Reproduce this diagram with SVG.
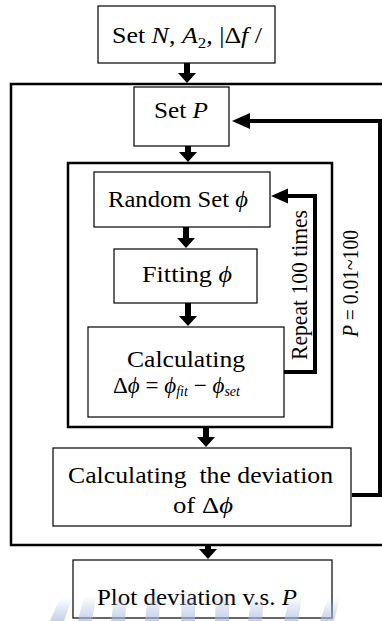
<svg xmlns="http://www.w3.org/2000/svg" width="382" height="621" viewBox="0 0 382 621">
<defs>
<style>
.box{fill:#fff;stroke:#000;stroke-width:1.2}
.frame{fill:none;stroke:#000;stroke-width:2.5}
.fb{fill:none;stroke:#000;stroke-width:4}
.ar{fill:#000}
.t{font-family:"Liberation Serif","DejaVu Serif",serif;font-size:23px;fill:#000}
.i{font-style:italic}
</style>
<linearGradient id="wm" x1="0" y1="0" x2="0" y2="1">
<stop offset="0" stop-color="#a9bbe0" stop-opacity="0"/>
<stop offset="1" stop-color="#a9bbe0" stop-opacity="0.85"/>
</linearGradient>
</defs>
<rect width="382" height="621" fill="#fff"/>
<g id="frames">
<rect id="outer-frame" class="frame" x="11" y="84" width="390" height="461"/>
<rect id="inner-frame" class="frame" x="68" y="163" width="264" height="264"/>
</g>
<g id="n-setN">
<rect class="box" x="98" y="6" width="177" height="57"/>
<text class="t" x="112" y="43" font-size="24" textLength="150" lengthAdjust="spacingAndGlyphs">Set <tspan class="i">N</tspan>, <tspan class="i">A</tspan><tspan font-size="15" dy="5">2</tspan><tspan dy="-5">, |Δ</tspan><tspan class="i">f</tspan> /</text>
</g>
<g id="n-setP">
<rect class="box" x="134" y="87" width="95" height="59"/>
<text class="t" x="154" y="118" textLength="54" lengthAdjust="spacingAndGlyphs">Set <tspan class="i">P</tspan></text>
</g>
<g id="n-random">
<rect class="box" x="94" y="172" width="176" height="55"/>
<text class="t" x="108" y="207" textLength="140" lengthAdjust="spacingAndGlyphs">Random Set <tspan class="i">ϕ</tspan></text>
</g>
<g id="n-fitting">
<rect class="box" x="114" y="249" width="143" height="54"/>
<text class="t" x="142" y="282" textLength="90" lengthAdjust="spacingAndGlyphs">Fitting <tspan class="i">ϕ</tspan></text>
</g>
<g id="n-calc">
<rect class="box" x="88" y="327" width="196" height="90"/>
<text class="t" x="127" y="367" textLength="118" lengthAdjust="spacingAndGlyphs">Calculating</text>
<text class="t" x="113" y="393" textLength="127" lengthAdjust="spacingAndGlyphs">Δ<tspan class="i">ϕ</tspan> = <tspan class="i">ϕ</tspan><tspan class="i" font-size="14" dy="3">fit</tspan><tspan dy="-3"> − </tspan><tspan class="i">ϕ</tspan><tspan class="i" font-size="14" dy="3">set</tspan></text>
</g>
<g id="n-deviation">
<rect class="box" x="53" y="448" width="298" height="78"/>
<text class="t" x="68" y="483" textLength="265" lengthAdjust="spacingAndGlyphs" xml:space="preserve">Calculating  the deviation</text>
<text class="t" x="173" y="513" textLength="60" lengthAdjust="spacingAndGlyphs">of Δ<tspan class="i">ϕ</tspan></text>
</g>
<g id="n-plot">
<rect class="box" x="73" y="560" width="259" height="58"/>
<text class="t" x="97" y="605" textLength="200" lengthAdjust="spacingAndGlyphs">Plot deviation v.s. <tspan class="i">P</tspan></text>
</g>
<g id="connectors">
<polygon class="ar" points="184,63 190,63 190,73 196,73 187,83 178,73 184,73"/>
<polygon class="ar" points="185,146 191,146 191,152 197,152 188,162 179,152 185,152"/>
<polygon class="ar" points="183,227 189,227 189,238 195,238 186,248 177,238 183,238"/>
<polygon class="ar" points="185,303 191,303 191,316 197,316 188,326 179,316 185,316"/>
<polygon class="ar" points="203,427 209,427 209,437 215,437 206,447 197,437 203,437"/>
<polygon class="ar" points="205,546 211,546 211,549 217,549 208,559 199,549 205,549"/>
<polyline class="fb" points="352,495 380,495 380,121 248,121"/>
<polygon class="ar" points="232,121 250,113 250,129"/>
<polyline class="fb" points="284,372 315,372 315,196 286,196"/>
<polygon class="ar" points="271,196 288,188.5 288,203.5"/>
<text class="t" font-size="22" transform="translate(307,360) rotate(-90)" x="0" y="0" textLength="150" lengthAdjust="spacingAndGlyphs">Repeat 100 times</text>
<text class="t" font-size="19" transform="translate(358,337) rotate(-90)" x="0" y="0" textLength="107" lengthAdjust="spacingAndGlyphs"><tspan class="i">P</tspan> = 0.01~100</text>
</g>
<g id="watermark" fill="url(#wm)" opacity="0.8">
<polygon points="50,621 64,621 72,598 60,598"/>
<polygon points="78,621 92,621 96,596 84,596"/>
<polygon points="111,621 125,621 127,594 115,594"/>
<polygon points="145,621 159,621 160,592 148,592"/>
<polygon points="181,621 195,621 195,591 182,591"/>
<polygon points="215,621 229,621 229,592 216,592"/>
<polygon points="248,621 262,621 264,594 252,594"/>
<polygon points="284,621 298,621 302,596 290,596"/>
<polygon points="320,621 334,621 340,598 328,598"/>
</g>
</svg>
